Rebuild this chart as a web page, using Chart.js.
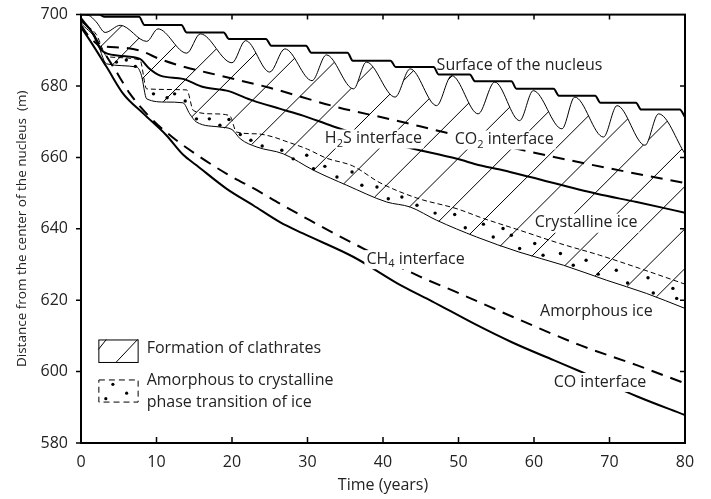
<!DOCTYPE html>
<html>
<head>
<meta charset="utf-8">
<script src="https://cdn.jsdelivr.net/npm/chart.js@4.4.1/dist/chart.umd.min.js"></script>
<style>
  html, body { margin: 0; padding: 0; background: #fff; }
</style>
</head>
<body>
<canvas id="chart" width="711" height="499"></canvas>
<script>
// ---- values (x: years, y: metres) ----
const xTicks = [0, 10, 20, 30, 40, 50, 60, 70, 80];
const yTicks = [580, 600, 620, 640, 660, 680, 700];

const surfaceLine = [[0,700],[2.4,700],[3.1,699.4],[7.7,699.4],[8.4,697.1],[13.3,697.1],[14.0,695.0],[18.9,695.0],[19.6,693.2],[24.5,693.2],[25.2,691.3],[29.8,691.3],[30.5,689.3],[35.3,689.3],[36.0,687.1],[41.0,687.1],[41.7,685.3],[46.7,685.3],[47.4,683.2],[51.5,683.2],[52.2,681.3],[57.0,681.3],[57.7,679.2],[62.6,679.2],[63.3,677.3],[68.1,677.3],[68.8,675.3],[73.5,675.3],[74.2,673.4],[79.3,673.4],[80,671.3]];

// wavy upper limit of the clathrate zone (troughs and crests)
const clathrateFront = [[0,700],[1,699.8],[2,698],[3.2,695],[5.2,697.0],[8.7,692.5],[10.2,696.0],[14.0,689.2],[15.8,694.6],[20.0,686.5],[21.8,692.7],[25.0,683.9],[27.0,690.4],[30.6,681.5],[32.5,688.7],[36.1,679.2],[37.8,686.7],[41.6,676.9],[43.6,684.8],[47.1,674.5],[49.1,682.9],[52.6,672.2],[54.8,681.1],[58.1,670.3],[59.9,678.7],[63.7,668.0],[65.4,676.9],[69.2,665.7],[71.0,674.5],[74.7,663.4],[76.5,672.2],[80,661.0]];

const co2Interface = [[0,699],[1.5,695],[2.7,691.3],[5,690.8],[7.8,689.9],[10.5,687.5],[13.1,685.7],[18.4,682.9],[25,679.5],[33.9,674.1],[41.8,670.3],[48,667.1],[58.6,662.0],[67,658.2],[80,652.8]];

const h2sInterface = [[0,698.5],[1.5,695],[2.7,690],[5,688.5],[7.8,687.6],[9,685],[10.5,682.9],[13.5,682.0],[16.2,679.7],[19.3,678.7],[22.8,675.9],[26.4,673.6],[29.4,671.7],[33.0,669.0],[38,665.5],[44,662.4],[49.8,659.6],[52.8,657.8],[55.9,656.4],[59.5,654.5],[68.3,649.8],[73.6,647.5],[80,644.5]];

const transitionTop = [[0,698],[2,694.5],[3.5,688.2],[7.8,687.3],[8.7,679.2],[14.0,678.9],[14.9,673.1],[17.5,672.2],[19.7,671.7],[20.6,667.1],[23.3,666.6],[25.5,665.7],[27,664.6],[30,662.3],[32.5,659.8],[36,657.6],[39.6,652.9],[44.5,648.6],[49.8,645.6],[53.3,642.9],[58.1,639.6],[63.4,635.9],[68.7,632.6],[74,628.9],[80,624.5]];

const transitionBottom = [[0,697.5],[2,693],[3.4,686.2],[7.4,685.3],[8.0,683],[8.7,676.4],[11.3,675.5],[13.5,675.3],[14.4,672.2],[15.3,669.9],[18.4,668.5],[20.0,667.8],[21.1,665.2],[23.3,662.9],[26.8,661.0],[30.8,656.4],[35.2,652.2],[40.5,647.5],[43.6,646.1],[47.1,642.4],[52.4,637.7],[58,633.5],[63.9,629.8],[69.6,625.6],[74.9,621.9],[80,617.7]];

const transitionDots = [[4.7,686.7],[6.0,687.3],[7.2,685.5],[9.6,677.8],[11.4,676.7],[12.4,677.8],[13.8,675.8],[15.3,670.8],[17.0,670.8],[18.4,669.0],[19.6,670.6],[21.1,666.4],[22.5,664.8],[24.0,663.2],[26.6,662.0],[28.1,659.6],[29.9,660.6],[30.8,656.8],[32.3,657.5],[33.9,654.5],[35.9,655.9],[37.2,652.2],[39.2,651.7],[40.7,648.4],[42.5,648.9],[44.5,646.6],[46.9,644.4],[49.5,644.0],[50.9,640.3],[53.3,641.3],[54.6,637.7],[55.9,640.1],[57.0,638.2],[58.1,634.5],[60.1,635.9],[61.2,632.6],[63.5,633.1],[65.2,629.8],[66.9,631.2],[68.5,627.3],[70.9,628.4],[72.4,624.8],[75.1,626.3],[75.8,622.0],[78.4,623.3],[78.9,620.5]];

const ch4Interface = [[0,697],[1,694],[2.5,690.9],[4.3,685.3],[6.5,677.8],[9.1,671.3],[12.2,665.5],[15.5,660.5],[19.3,655.4],[23.3,650.8],[26.4,647],[30.3,642.4],[37,634.9],[44.9,626.6],[49.8,622.2],[52.8,619.4],[58.1,614.5],[66.1,607.4],[73.6,601.8],[80,596.7]];

const coInterface = [[0,696.5],[1.2,692.7],[3.4,685.3],[5.6,677.8],[8.3,672.2],[11.3,666.2],[13.5,660.8],[15.3,657.8],[19.3,651.2],[22.8,646.6],[26.4,641.8],[29.4,638.7],[36.1,632.1],[42.5,624.0],[46.5,619.7],[52,613.5],[57,608.3],[62.6,603.2],[66.3,599.9],[73.6,593.1],[80,587.8]];

// clathrate hatching: [x bottom, y bottom, x top, y top]; tops are hidden above the wavy front
const hatchSegments = [[2.5,690.8,6.9,700],[4.2,686.0,10.8,700],[8.1,682.0,16.6,700],[10.9,675.6,22.5,700],[14.7,671.4,28.3,700],[19.0,668.2,34.1,700],[22.6,663.6,39.9,700],[27.0,660.8,45.6,700],[30.8,656.4,51.5,700],[34.8,652.6,57.3,700],[38.9,648.9,63.1,700],[43.5,646.1,69.1,700],[47.4,642.1,74.8,700],[51.5,638.5,80,698.6],[55.5,635.1,80,686.8],[59.7,632.3,80,675.1],[64.1,629.7,80,663.2],[68.1,626.8,80,651.9],[72.3,623.8,80,640.0],[76.2,620.9,80,628.9]];

const FONT = '"Open Sans", "DejaVu Sans", sans-serif';
const pts = arr => arr.map(([x, y]) => ({ x, y }));

function hatchPoints(segs) {
  const out = [];
  segs.forEach(([x1, y1, x2, y2]) => {
    out.push({ x: x1, y: y1 }, { x: x2, y: y2 }, { x: x2, y: null });
  });
  return out;
}

function lineSet(data, width, dash) {
  return {
    data: pts(data),
    borderColor: "#000",
    borderWidth: width,
    borderDash: dash || [],
    pointRadius: 0,
    fill: false,
    cubicInterpolationMode: "monotone"
  };
}

// text labels placed in data coordinates
const labels = [
  { parts: [["Surface of the nucleus"]], x: 47.1, y: 685.7, bg: false },
  { parts: [["H"], ["2", 1], ["S interface"]], x: 32.3, y: 665.3, bg: true },
  { parts: [["CO"], ["2", 1], [" interface"]], x: 49.5, y: 665.0, bg: true },
  { parts: [["Crystalline ice"]], x: 60.1, y: 641.7, bg: true },
  { parts: [["CH"], ["4", 1], [" interface"]], x: 37.8, y: 631.5, bg: true },
  { parts: [["Amorphous ice"]], x: 60.8, y: 616.9, bg: true },
  { parts: [["CO interface"]], x: 62.6, y: 597.1, bg: true }
];

function drawParts(ctx, parts, x, y, measureOnly) {
  let cx = x;
  parts.forEach(([t, sub]) => {
    ctx.font = (sub ? "11px " : "16px ") + FONT;
    if (!measureOnly) ctx.fillText(t, cx, sub ? y + 5 : y);
    cx += ctx.measureText(t).width;
  });
  return cx - x;
}

const annotate = {
  id: "annotate",
  afterDatasetsDraw(chart) {
    const ctx = chart.ctx;
    const xs = chart.scales.x, ys = chart.scales.y;
    const a = chart.chartArea;
    ctx.save();
    ctx.textBaseline = "middle";
    ctx.textAlign = "left";
    labels.forEach(l => {
      const px = xs.getPixelForValue(l.x), py = ys.getPixelForValue(l.y);
      const w = drawParts(ctx, l.parts, px, py, true);
      if (l.bg) {
        ctx.fillStyle = "#fff";
        ctx.fillRect(px - 2, py - 9, w + 4, 19);
      }
      ctx.fillStyle = "#222";
      drawParts(ctx, l.parts, px, py, false);
    });

    // legend
    const bx1 = xs.getPixelForValue(2.3), bx2 = xs.getPixelForValue(7.5);
    const t1 = ys.getPixelForValue(609.0), b1 = ys.getPixelForValue(602.7);
    const t2 = ys.getPixelForValue(597.8), b2 = ys.getPixelForValue(591.6);
    ctx.strokeStyle = "#000";
    ctx.lineWidth = 1;
    ctx.strokeRect(bx1 + 0.5, t1 + 0.5, bx2 - bx1, b1 - t1);
    ctx.beginPath();
    ctx.moveTo(bx1 + 8, t1); ctx.lineTo(bx1, t1 + 10);
    ctx.moveTo(bx2, t1); ctx.lineTo(bx1 + 18, b1);
    ctx.stroke();
    ctx.setLineDash([6, 4]);
    ctx.strokeRect(bx1 + 0.5, t2 + 0.5, bx2 - bx1, b2 - t2);
    ctx.setLineDash([]);
    ctx.fillStyle = "#000";
    [[0.37, 0.22], [0.72, 0.62], [0.19, 0.87]].forEach(([fx, fy]) => {
      ctx.beginPath();
      ctx.arc(bx1 + fx * (bx2 - bx1), t2 + fy * (b2 - t2), 1.6, 0, Math.PI * 2);
      ctx.fill();
    });
    ctx.fillStyle = "#222";
    ctx.font = "16px " + FONT;
    const tx = xs.getPixelForValue(8.7);
    ctx.fillText("Formation of clathrates", tx, ys.getPixelForValue(606.6));
    ctx.fillText("Amorphous to crystalline", tx, ys.getPixelForValue(597.4));
    ctx.fillText("phase transition of ice", tx, ys.getPixelForValue(591.3));

    // frame and tick marks
    ctx.strokeStyle = "#000";
    ctx.lineWidth = 2;
    ctx.strokeRect(a.left, a.top, a.right - a.left, a.bottom - a.top);
    ctx.lineWidth = 1.5;
    ctx.beginPath();
    xTicks.slice(1, -1).forEach(v => {
      const p = xs.getPixelForValue(v);
      ctx.moveTo(p, a.bottom); ctx.lineTo(p, a.bottom - 6);
      ctx.moveTo(p, a.top); ctx.lineTo(p, a.top + 5);
    });
    yTicks.forEach(v => {
      const p = ys.getPixelForValue(v);
      ctx.moveTo(a.left, p); ctx.lineTo(a.left - 5, p);
      if (v > 580 && v < 700) { ctx.moveTo(a.right, p); ctx.lineTo(a.right - 5, p); }
    });
    ctx.stroke();
    ctx.restore();
  }
};

// dataset 0 is drawn on top, the last one at the bottom
new Chart(document.getElementById("chart"), {
  type: "line",
  data: {
    datasets: [
      {
        type: "scatter",
        data: pts(transitionDots),
        showLine: false,
        pointRadius: 1.7,
        pointBackgroundColor: "#000",
        pointBorderWidth: 0
      },
      lineSet(coInterface, 2),
      lineSet(ch4Interface, 2, [12, 8]),
      lineSet(transitionTop, 1, [5, 3]),
      lineSet(transitionBottom, 1),
      lineSet(h2sInterface, 2),
      lineSet(co2Interface, 2, [12, 8]),
      lineSet(surfaceLine, 2),
      Object.assign(lineSet(clathrateFront, 1), { fill: "end", backgroundColor: "#fff" }),
      Object.assign(lineSet([], 1), { data: hatchPoints(hatchSegments), cubicInterpolationMode: "default", tension: 0 })
    ]
  },
  options: {
    responsive: false,
    animation: false,
    devicePixelRatio: 1,
    layout: { padding: { left: 0, top: 14, right: 26, bottom: 0 } },
    plugins: { legend: { display: false }, tooltip: { enabled: false } },
    scales: {
      x: {
        type: "linear",
        min: 0,
        max: 80,
        afterFit: s => { s.height = 56; },
        afterBuildTicks: s => { s.ticks = xTicks.map(v => ({ value: v })); },
        grid: { display: false },
        border: { display: false },
        ticks: { color: "#222", padding: 2, font: { size: 16, family: FONT } },
        title: {
          display: true,
          text: "Time (years)",
          color: "#222",
          padding: { top: 0, bottom: 4 },
          font: { size: 16, family: FONT }
        }
      },
      y: {
        type: "linear",
        min: 580,
        max: 700,
        afterFit: s => { s.width = 81; },
        afterBuildTicks: s => { s.ticks = yTicks.map(v => ({ value: v })); },
        grid: { display: false },
        border: { display: false },
        ticks: { color: "#222", padding: 5, font: { size: 16, family: FONT } },
        title: {
          display: true,
          text: "Distance from the center of the nucleus  (m)",
          color: "#222",
          padding: { top: 14, bottom: 0 },
          font: { size: 13.5, family: FONT }
        }
      }
    }
  },
  plugins: [annotate]
});
</script>
</body>
</html>
